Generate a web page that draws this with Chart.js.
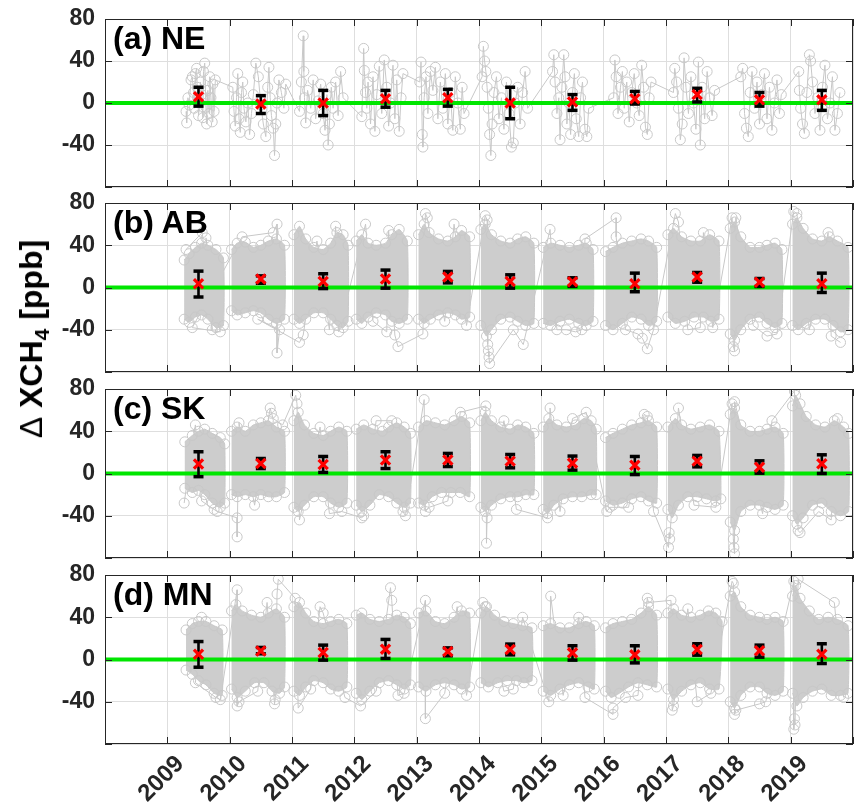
<!DOCTYPE html>
<html><head><meta charset="utf-8">
<script src="https://cdn.jsdelivr.net/npm/chart.js@4.4.0/dist/chart.umd.min.js"></script>
<style>
html,body{margin:0;padding:0;background:#fff;}
body{width:854px;height:812px;position:relative;overflow:hidden;font-family:"Liberation Sans",Arial,Helvetica,sans-serif;}
canvas{position:absolute;left:0;}
.plab{position:absolute;left:113px;font-weight:bold;font-size:32px;line-height:32px;color:#000;white-space:nowrap;}
#ytitle{position:absolute;left:31px;top:339px;transform:translate(-50%,-50%) rotate(-90deg);font-weight:bold;font-size:32px;line-height:32px;color:#000;white-space:nowrap;}
#ytitle sub{font-size:21px;vertical-align:-7px;line-height:0;}
#ytitle .d{font-weight:normal;}
</style></head><body>
<canvas id="pa" width="854" height="200" style="top:0px"></canvas>
<canvas id="pb" width="854" height="196" style="top:189px"></canvas>
<canvas id="pc" width="854" height="196" style="top:375px"></canvas>
<canvas id="pd" width="854" height="251" style="top:561px"></canvas>
<div class="plab" id="la" style="top:22px"></div>
<div class="plab" id="lb" style="top:206px"></div>
<div class="plab" id="lc" style="top:392px"></div>
<div class="plab" id="ld" style="top:578px"></div>
<div id="ytitle"><span class="d">Δ</span> XCH<sub>4</sub> [ppb]</div>
<script>
// ---------------- DATA ----------------
const years = [2009,2010,2011,2012,2013,2014,2015,2016,2017,2018,2019];
const xMin = 2008, xMax = 2020;
const yMin = -80, yMax = 80;
const yTickLabels = [-40, 0, 40, 80];
const zeroLine = 0;
const panelNames = ['(a) NE', '(b) AB', '(c) SK', '(d) MN'];

// yearly mean and error-bar limits (ppb)
const neMean = [6, -1, 0, 4, 5, 0, 1, 4, 8, 3, 3];
const neLow  = [-3, -10, -12, -4, -3, -15, -7, -1, 1, -3, -7];
const neHigh = [15, 7, 12, 12, 13, 15, 8, 11, 14, 10, 12];
const abMean = [3.5, 8, 5.7, 8, 10, 5.7, 5.4, 3.5, 10, 5, 3.5];
const abLow  = [-9, 4, -1, -0.6, 4.4, -0.6, 1, -4, 5, 1, -4.7];
const abHigh = [15.5, 11, 13, 16.5, 15.2, 12, 9.2, 13.6, 14.2, 8.5, 13.6];
const skMean = [9, 9.5, 8.5, 12.7, 12.7, 11.7, 9.8, 7.9, 11.7, 6, 9.2];
const skLow  = [-3, 4.7, 1, 4.7, 6.6, 5.4, 3.2, -1, 6.3, 0.3, 0];
const skHigh = [20.6, 14.2, 16.1, 20.6, 19, 18, 16.5, 16.1, 17.1, 12, 17.7];
const mnMean = [5, 8, 6.6, 9.8, 7.6, 9.5, 6.3, 4.4, 9.5, 8.2, 5];
const mnLow  = [-7.3, 5.4, -0.6, 1, 3.5, 4.4, -0.6, -3.2, 4.1, 2.2, -3.8];
const mnHigh = [17, 11.4, 13.6, 19, 11, 14.6, 13, 13, 14.9, 13.6, 14.9];

// NE individual soundings [decimal year, ppb]
const neSeries = [
 [2009.30,-8],[2009.31,-19],[2009.33,5],[2009.35,-2],[2009.38,22],[2009.40,25],[2009.42,10],[2009.43,-5],[2009.45,28],[2009.47,33],[2009.48,15],[2009.50,-12],[2009.52,0],[2009.53,20],[2009.55,8],[2009.57,-14],[2009.58,30],[2009.60,38],[2009.62,-4],[2009.63,-20],[2009.65,12],[2009.67,-10],[2009.68,25],[2009.70,5],[2009.72,-18],[2009.73,18],[2009.75,-8],[2009.77,22],
 [2010.05,15],[2010.07,-8],[2010.09,-22],[2010.11,5],[2010.13,28],[2010.15,-15],[2010.17,-28],[2010.19,10],[2010.21,20],[2010.23,-5],[2010.26,-18],[2010.29,0],[2010.32,-30],[2010.35,-10],[2010.38,8],[2010.42,38],[2010.46,25],[2010.50,-2],[2010.54,-20],[2010.58,-32],[2010.61,15],[2010.63,34],[2010.65,5],[2010.67,-12],[2010.70,-24],[2010.72,-50],[2010.74,-20],[2010.76,0],[2010.79,22],[2010.83,10],[2010.87,-5],[2010.90,18],
 [2011.12,-8],[2011.15,20],[2011.18,64],[2011.19,30],[2011.20,5],[2011.22,-19],[2011.25,12],[2011.30,-5],[2011.34,22],[2011.38,-15],[2011.42,2],[2011.46,18],[2011.50,-10],[2011.53,-26],[2011.56,8],[2011.58,-40],[2011.60,-20],[2011.63,15],[2011.66,-5],[2011.70,20],[2011.74,-12],[2011.78,30],[2011.82,5],
 [2012.12,-13],[2012.15,52],[2012.16,31],[2012.18,10],[2012.20,-5],[2012.22,20],[2012.26,-20],[2012.30,25],[2012.33,-27],[2012.36,8],[2012.40,35],[2012.44,-10],[2012.48,41],[2012.52,15],[2012.55,-22],[2012.58,0],[2012.62,36],[2012.65,-15],[2012.68,22],[2012.72,-27],[2012.75,5],[2012.78,28],
 [2013.05,20],[2013.07,39],[2013.09,-30],[2013.10,-42],[2013.12,5],[2013.15,25],[2013.18,-10],[2013.22,30],[2013.26,12],[2013.30,34],[2013.34,-15],[2013.38,20],[2013.42,-5],[2013.46,28],[2013.50,-20],[2013.54,10],[2013.58,-26],[2013.62,25],[2013.66,0],[2013.70,-25],[2013.73,15],[2013.76,-10],
 [2014.05,25],[2014.07,54],[2014.09,40],[2014.11,30],[2014.13,15],[2014.15,-5],[2014.17,-30],[2014.19,-50],[2014.21,-20],[2014.24,10],[2014.28,25],[2014.32,-15],[2014.36,5],[2014.40,-25],[2014.44,20],[2014.48,-10],[2014.52,-42],[2014.55,-38],[2014.58,0],[2014.62,15],[2014.66,-20],[2014.70,10],[2014.74,30],[2014.78,-5],
 [2015.18,30],[2015.20,46],[2015.22,20],[2015.25,-10],[2015.28,5],[2015.30,-35],[2015.33,15],[2015.36,46],[2015.38,25],[2015.41,-20],[2015.44,0],[2015.47,-30],[2015.50,10],[2015.53,28],[2015.56,-15],[2015.60,-32],[2015.63,5],[2015.66,20],[2015.70,-25],[2015.73,-32],[2015.76,-5],
 [2016.16,5],[2016.18,41],[2016.20,25],[2016.23,-10],[2016.27,15],[2016.30,30],[2016.33,-5],[2016.37,20],[2016.41,-18],[2016.45,10],[2016.49,28],[2016.53,0],[2016.57,-12],[2016.61,36],[2016.64,15],[2016.67,-23],[2016.70,-30],[2016.73,5],[2016.76,20],
 [2017.12,10],[2017.14,33],[2017.17,20],[2017.20,-5],[2017.23,-35],[2017.26,-20],[2017.29,43],[2017.32,15],[2017.36,-10],[2017.40,25],[2017.44,0],[2017.48,-25],[2017.52,39],[2017.55,-40],[2017.58,15],[2017.62,-15],[2017.66,30],[2017.70,5],[2017.74,-12],[2017.78,12],
 [2018.20,25],[2018.23,33],[2018.26,-10],[2018.29,-24],[2018.32,-32],[2018.35,10],[2018.38,30],[2018.42,-5],[2018.46,20],[2018.50,-20],[2018.54,8],[2018.58,28],[2018.62,-15],[2018.66,15],[2018.70,-26],[2018.74,0],[2018.78,22],[2018.82,-10],[2018.85,8],
 [2019.13,30],[2019.14,12],[2019.16,-5],[2019.19,-20],[2019.22,-29],[2019.26,10],[2019.30,46],[2019.32,40],[2019.35,20],[2019.39,-10],[2019.43,5],[2019.47,-26],[2019.51,15],[2019.55,36],[2019.59,-15],[2019.63,0],[2019.67,25],[2019.71,-26],[2019.75,-10],[2019.79,10]
];

// Dense panels: upper and lower edge of each yearly cloud, plus isolated soundings
const abTop = [
 [[2009.27,26],[2009.35,32],[2009.45,38],[2009.55,42],[2009.65,40],[2009.78,36],[2009.9,28]],
 [[2010.03,36],[2010.12,42],[2010.25,43],[2010.38,38],[2010.5,40],[2010.62,44],[2010.75,46],[2010.88,40]],
 [[2011.03,50],[2011.12,58],[2011.22,46],[2011.35,38],[2011.5,36],[2011.62,42],[2011.72,52],[2011.82,50],[2011.9,40]],
 [[2012.03,44],[2012.12,50],[2012.22,42],[2012.35,40],[2012.5,42],[2012.6,50],[2012.72,55],[2012.85,44]],
 [[2013.03,50],[2013.12,60],[2013.2,52],[2013.35,46],[2013.5,44],[2013.62,48],[2013.72,54],[2013.85,48]],
 [[2014.03,55],[2014.1,60],[2014.2,50],[2014.35,44],[2014.5,42],[2014.62,46],[2014.75,48],[2014.88,42]],
 [[2015.03,38],[2015.15,42],[2015.3,40],[2015.45,38],[2015.6,40],[2015.72,42],[2015.83,36]],
 [[2016.03,34],[2016.15,38],[2016.3,42],[2016.45,44],[2016.6,46],[2016.72,44],[2016.85,38]],
 [[2017.03,50],[2017.12,56],[2017.25,48],[2017.4,44],[2017.55,44],[2017.7,50],[2017.85,44]],
 [[2018.03,56],[2018.1,62],[2018.2,48],[2018.35,38],[2018.5,38],[2018.62,40],[2018.75,42],[2018.86,36]],
 [[2019.03,60],[2019.1,66],[2019.2,56],[2019.35,46],[2019.5,44],[2019.62,48],[2019.75,44],[2019.92,38]]
];
const abBottom = [
 [[2009.27,-30],[2009.35,-33],[2009.45,-28],[2009.55,-26],[2009.65,-30],[2009.78,-38],[2009.9,-36]],
 [[2010.03,-22],[2010.12,-26],[2010.25,-24],[2010.38,-22],[2010.5,-24],[2010.62,-30],[2010.75,-34],[2010.88,-30]],
 [[2011.03,-30],[2011.12,-34],[2011.22,-30],[2011.35,-24],[2011.5,-24],[2011.62,-30],[2011.72,-36],[2011.82,-38],[2011.9,-32]],
 [[2012.03,-30],[2012.12,-34],[2012.22,-28],[2012.35,-24],[2012.5,-26],[2012.6,-32],[2012.72,-34],[2012.85,-30]],
 [[2013.03,-30],[2013.12,-34],[2013.22,-30],[2013.35,-26],[2013.5,-24],[2013.62,-26],[2013.72,-30],[2013.85,-28]],
 [[2014.03,-36],[2014.12,-46],[2014.2,-40],[2014.35,-30],[2014.5,-28],[2014.62,-32],[2014.75,-36],[2014.88,-34]],
 [[2015.03,-34],[2015.15,-36],[2015.3,-32],[2015.45,-30],[2015.6,-34],[2015.72,-36],[2015.83,-32]],
 [[2016.03,-36],[2016.15,-40],[2016.3,-34],[2016.45,-28],[2016.6,-30],[2016.72,-36],[2016.85,-32]],
 [[2017.03,-28],[2017.15,-34],[2017.3,-32],[2017.45,-28],[2017.6,-28],[2017.72,-32],[2017.85,-30]],
 [[2018.03,-44],[2018.1,-50],[2018.2,-40],[2018.35,-30],[2018.5,-28],[2018.62,-34],[2018.75,-38],[2018.86,-34]],
 [[2019.03,-36],[2019.12,-40],[2019.25,-34],[2019.4,-30],[2019.55,-30],[2019.68,-36],[2019.8,-42],[2019.92,-40]]
];
const abOutliers = [
 [[2009.3,36],[2009.56,52],[2009.72,-40],[2009.62,47],[2009.85,-42],[2009.4,-38]],
 [[2010.2,48],[2010.7,52],[2010.76,60],[2010.76,-62],[2010.8,-40],[2010.45,-30]],
 [[2011.12,-52],[2011.18,-45],[2011.4,44],[2011.6,-40],[2011.7,58],[2011.75,-42]],
 [[2012.18,60],[2012.3,-32],[2012.52,-42],[2012.55,54],[2012.65,-45],[2012.7,-56]],
 [[2013.1,-44],[2013.14,70],[2013.17,66],[2013.45,-32],[2013.6,60],[2013.8,-36]],
 [[2014.1,68],[2014.13,64],[2014.14,-54],[2014.15,-60],[2014.16,-66],[2014.17,-72],[2014.55,-40],[2014.71,-54]],
 [[2015.14,55],[2015.25,-40],[2015.4,-40],[2015.55,-42],[2015.65,-40],[2015.7,46]],
 [[2016.2,66],[2016.2,48],[2016.35,-40],[2016.55,-44],[2016.62,-48],[2016.7,-58],[2016.8,-40]],
 [[2017.15,70],[2017.2,62],[2017.35,-40],[2017.55,-38],[2017.6,52],[2017.75,-38]],
 [[2018.06,66],[2018.08,-56],[2018.1,-60],[2018.12,66],[2018.4,-36],[2018.62,-46],[2018.78,-44]],
 [[2019.05,72],[2019.1,70],[2019.3,-40],[2019.6,52],[2019.65,-46],[2019.8,-52]]
];
const skTop = [
 [[2009.28,30],[2009.4,36],[2009.5,40],[2009.6,42],[2009.72,38],[2009.85,34],[2009.92,28]],
 [[2010.03,40],[2010.12,44],[2010.25,40],[2010.38,46],[2010.5,48],[2010.62,50],[2010.75,44],[2010.88,40]],
 [[2011.03,50],[2011.1,58],[2011.2,46],[2011.35,38],[2011.5,36],[2011.62,40],[2011.75,44],[2011.88,40]],
 [[2012.03,42],[2012.15,46],[2012.3,42],[2012.45,40],[2012.55,44],[2012.68,48],[2012.8,44],[2012.9,38]],
 [[2013.03,44],[2013.15,50],[2013.3,48],[2013.45,46],[2013.6,50],[2013.72,54],[2013.85,48]],
 [[2014.03,50],[2014.1,58],[2014.2,50],[2014.35,44],[2014.5,42],[2014.62,46],[2014.75,44],[2014.88,38]],
 [[2015.03,44],[2015.12,52],[2015.25,46],[2015.4,44],[2015.55,46],[2015.68,52],[2015.8,50],[2015.88,42]],
 [[2016.03,34],[2016.15,38],[2016.3,42],[2016.45,46],[2016.6,48],[2016.72,50],[2016.85,44]],
 [[2017.03,44],[2017.15,52],[2017.25,46],[2017.4,42],[2017.55,44],[2017.7,46],[2017.85,40]],
 [[2018.03,56],[2018.1,62],[2018.2,46],[2018.35,40],[2018.5,40],[2018.62,42],[2018.75,44],[2018.88,38]],
 [[2019.03,64],[2019.08,74],[2019.15,66],[2019.25,54],[2019.4,46],[2019.55,44],[2019.7,50],[2019.85,44],[2019.93,38]]
];
const skBottom = [
 [[2009.28,-14],[2009.4,-18],[2009.5,-16],[2009.6,-20],[2009.72,-28],[2009.85,-32],[2009.92,-28]],
 [[2010.03,-20],[2010.12,-22],[2010.25,-20],[2010.38,-22],[2010.5,-20],[2010.62,-22],[2010.75,-22],[2010.88,-18]],
 [[2011.03,-32],[2011.1,-36],[2011.2,-30],[2011.35,-22],[2011.5,-22],[2011.62,-28],[2011.75,-32],[2011.88,-28]],
 [[2012.03,-30],[2012.12,-36],[2012.25,-30],[2012.4,-20],[2012.55,-22],[2012.68,-28],[2012.8,-32],[2012.9,-28]],
 [[2013.03,-28],[2013.12,-30],[2013.25,-22],[2013.4,-18],[2013.55,-18],[2013.7,-18],[2013.85,-22]],
 [[2014.03,-32],[2014.1,-36],[2014.2,-30],[2014.35,-24],[2014.5,-22],[2014.62,-22],[2014.75,-20],[2014.88,-20]],
 [[2015.03,-34],[2015.1,-38],[2015.2,-30],[2015.35,-24],[2015.5,-22],[2015.65,-22],[2015.8,-20],[2015.88,-20]],
 [[2016.03,-26],[2016.15,-30],[2016.3,-28],[2016.45,-24],[2016.6,-22],[2016.72,-26],[2016.85,-28]],
 [[2017.03,-34],[2017.1,-42],[2017.2,-30],[2017.35,-22],[2017.5,-22],[2017.65,-24],[2017.8,-26],[2017.88,-24]],
 [[2018.03,-46],[2018.1,-54],[2018.2,-36],[2018.35,-30],[2018.5,-30],[2018.62,-32],[2018.75,-34],[2018.88,-30]],
 [[2019.03,-40],[2019.1,-48],[2019.2,-42],[2019.35,-30],[2019.5,-28],[2019.65,-36],[2019.8,-40],[2019.93,-36]]
];
const skOutliers = [
 [[2009.27,-28],[2009.45,46],[2009.55,-26],[2009.75,-34],[2009.8,-36]],
 [[2010.12,-42],[2010.12,-60],[2010.15,48],[2010.4,-30],[2010.65,62],[2010.67,57],[2010.7,52],[2010.85,46]],
 [[2011.06,74],[2011.08,66],[2011.12,-44],[2011.45,44],[2011.6,-38],[2011.8,-36]],
 [[2012.12,-42],[2012.15,-40],[2012.35,50],[2012.6,50],[2012.78,-36],[2012.82,-40]],
 [[2013.12,70],[2013.14,-36],[2013.2,-32],[2013.5,-26],[2013.7,58]],
 [[2014.11,64],[2014.12,-66],[2014.13,-42],[2014.4,50],[2014.6,-34]],
 [[2015.1,-42],[2015.14,62],[2015.3,-36],[2015.5,52],[2015.72,58]],
 [[2016.05,-36],[2016.1,-32],[2016.4,-32],[2016.65,56],[2016.7,54],[2016.8,-36]],
 [[2017.04,-70],[2017.05,-56],[2017.06,-62],[2017.2,62],[2017.45,-30],[2017.8,-32]],
 [[2018.06,66],[2018.08,-62],[2018.09,-70],[2018.1,-76],[2018.1,68],[2018.55,-38],[2018.7,50]],
 [[2019.06,78],[2019.12,-54],[2019.15,-56],[2019.45,-36],[2019.65,-44],[2019.75,52]]
];
const mnTop = [
 [[2009.3,28],[2009.4,34],[2009.5,36],[2009.62,36],[2009.75,32],[2009.88,28]],
 [[2010.03,46],[2010.1,52],[2010.2,46],[2010.35,42],[2010.5,40],[2010.62,44],[2010.75,48],[2010.88,40]],
 [[2011.03,50],[2011.12,54],[2011.22,44],[2011.35,36],[2011.5,34],[2011.62,36],[2011.75,38],[2011.88,34]],
 [[2012.03,42],[2012.12,44],[2012.25,38],[2012.4,36],[2012.55,38],[2012.68,42],[2012.8,40],[2012.9,34]],
 [[2013.03,44],[2013.15,46],[2013.3,36],[2013.45,34],[2013.6,40],[2013.72,46],[2013.85,44]],
 [[2014.03,44],[2014.12,50],[2014.25,42],[2014.4,36],[2014.55,34],[2014.7,32],[2014.85,30]],
 [[2015.03,32],[2015.15,34],[2015.3,30],[2015.45,30],[2015.6,34],[2015.72,36],[2015.85,32]],
 [[2016.03,30],[2016.15,34],[2016.3,36],[2016.45,38],[2016.6,44],[2016.72,50],[2016.85,42]],
 [[2017.03,44],[2017.12,48],[2017.25,42],[2017.4,40],[2017.55,42],[2017.68,46],[2017.8,44],[2017.9,36]],
 [[2018.03,60],[2018.1,64],[2018.2,50],[2018.35,42],[2018.5,40],[2018.62,38],[2018.75,40],[2018.88,36]],
 [[2019.03,60],[2019.08,70],[2019.15,58],[2019.3,46],[2019.45,38],[2019.6,40],[2019.75,38],[2019.92,32]]
];
const mnBottom = [
 [[2009.3,-10],[2009.4,-14],[2009.5,-20],[2009.62,-24],[2009.75,-32],[2009.88,-34]],
 [[2010.03,-28],[2010.12,-36],[2010.25,-30],[2010.4,-22],[2010.55,-22],[2010.68,-30],[2010.8,-32],[2010.88,-26]],
 [[2011.03,-30],[2011.12,-34],[2011.22,-26],[2011.35,-20],[2011.5,-22],[2011.62,-28],[2011.75,-30],[2011.88,-26]],
 [[2012.03,-32],[2012.12,-38],[2012.25,-30],[2012.4,-22],[2012.55,-20],[2012.68,-24],[2012.8,-28],[2012.9,-24]],
 [[2013.03,-26],[2013.15,-30],[2013.3,-24],[2013.45,-22],[2013.6,-24],[2013.72,-28],[2013.85,-26]],
 [[2014.03,-22],[2014.15,-26],[2014.3,-22],[2014.45,-20],[2014.6,-20],[2014.72,-22],[2014.85,-20]],
 [[2015.03,-30],[2015.15,-34],[2015.3,-28],[2015.45,-24],[2015.6,-22],[2015.75,-26],[2015.85,-28]],
 [[2016.03,-30],[2016.12,-36],[2016.25,-32],[2016.4,-26],[2016.55,-22],[2016.7,-24],[2016.85,-26]],
 [[2017.03,-28],[2017.12,-38],[2017.25,-30],[2017.4,-24],[2017.55,-22],[2017.7,-28],[2017.85,-28]],
 [[2018.03,-40],[2018.1,-46],[2018.2,-34],[2018.35,-26],[2018.5,-26],[2018.62,-32],[2018.75,-34],[2018.88,-30]],
 [[2019.03,-32],[2019.1,-44],[2019.2,-36],[2019.35,-30],[2019.5,-28],[2019.65,-34],[2019.8,-34],[2019.92,-32]]
];
const mnOutliers = [
 [[2009.55,40],[2009.45,-22],[2009.78,-36],[2009.85,-38]],
 [[2010.12,66],[2010.12,-44],[2010.15,-40],[2010.45,-30],[2010.6,54],[2010.72,-42],[2010.73,-38],[2010.76,62],[2010.78,76]],
 [[2011.05,58],[2011.1,-46],[2011.3,-28],[2011.45,50],[2011.5,44],[2011.85,-36]],
 [[2012.1,-44],[2012.35,-30],[2012.58,68],[2012.6,56],[2012.7,-34],[2012.8,-32]],
 [[2013.14,56],[2013.14,-56],[2013.45,-32],[2013.65,50],[2013.8,-34]],
 [[2014.06,54],[2014.1,50],[2014.4,-30],[2014.55,-28],[2014.7,40]],
 [[2015.12,-40],[2015.15,60],[2015.35,-34],[2015.6,40],[2015.7,-36]],
 [[2016.15,-52],[2016.15,-46],[2016.35,-36],[2016.55,-34],[2016.7,58],[2016.72,54]],
 [[2017.08,56],[2017.1,-48],[2017.12,-44],[2017.35,48],[2017.5,-40],[2017.72,-32]],
 [[2018.06,74],[2018.08,72],[2018.1,-52],[2018.12,-48],[2018.5,-42],[2018.6,-40]],
 [[2019.05,74],[2019.05,-66],[2019.06,-56],[2019.07,-62],[2019.12,76],[2019.7,54],[2019.85,-36]]
];

// ---------------- STYLE ----------------
const GRAY = '#c8c8c8', FILLGRAY = '#cdcdcd', GRID = '#dedede', AXIS = '#262626';
const GREEN = '#00e600';
const yFont = {family: '"Liberation Sans", Arial, sans-serif', size: 23, weight: 'bold'};
const xFont = {family: '"Liberation Sans", Arial, sans-serif', size: 24, weight: 'bold'};

const toPts = arr => arr.map(p => ({x: p[0], y: p[1]}));

const boxPlugin = {
  id: 'boxTicks',
  afterDatasetsDraw(chart) {
    const {ctx, chartArea: a, scales: {x, y}} = chart;
    ctx.save();
    ctx.strokeStyle = AXIS;
    ctx.lineWidth = 1;
    ctx.beginPath();
    const tl = 7;
    x.ticks.forEach(t => {
      const px = Math.round(x.getPixelForValue(t.value)) + 0.5;
      ctx.moveTo(px, a.top); ctx.lineTo(px, a.top + tl);
      ctx.moveTo(px, a.bottom); ctx.lineTo(px, a.bottom - tl);
    });
    y.ticks.forEach(t => {
      const py = Math.round(y.getPixelForValue(t.value)) + 0.5;
      ctx.moveTo(a.left, py); ctx.lineTo(a.left + tl, py);
      ctx.moveTo(a.right, py); ctx.lineTo(a.right - tl, py);
    });
    ctx.stroke();
    ctx.strokeRect(Math.round(a.left) + 0.5, Math.round(a.top) + 0.5, Math.round(a.width) - 1, Math.round(a.height) - 1);
    ctx.restore();
  }
};

function makePanel(canvasId, cfg) {
  const mids = years.map(y => y + 0.5);
  const ds = [];
  ds.push({data: mids.map((x, i) => ({x, y: cfg.mean[i]})), showLine: false,
    pointStyle: 'crossRot', pointRadius: 6.5, pointBorderWidth: 3.2,
    pointBorderColor: '#ff0000', pointBackgroundColor: '#ff0000', borderColor: '#ff0000', backgroundColor: '#ff0000'});
  const caps = [];
  mids.forEach((x, i) => { caps.push({x, y: cfg.low[i]}, {x, y: cfg.high[i]}); });
  ds.push({data: caps, showLine: false, pointStyle: 'line', pointRadius: 5, pointBorderWidth: 3.5,
    pointBorderColor: '#000', borderColor: '#000', backgroundColor: '#000'});
  const stems = [];
  mids.forEach((x, i) => { stems.push({x, y: cfg.low[i]}, {x, y: cfg.high[i]}, {x, y: null}); });
  ds.push({data: stems, showLine: true, spanGaps: false, borderColor: '#000', backgroundColor: '#000',
    borderWidth: 2.6, pointRadius: 0});
  ds.push({data: [{x: xMin, y: zeroLine}, {x: xMax, y: zeroLine}], showLine: true,
    borderColor: GREEN, backgroundColor: GREEN, borderWidth: 4, pointRadius: 0});
  if (cfg.top) {
    cfg.top.forEach((t, i) => {
      const poly = toPts(t).concat(toPts(cfg.bottom[i].slice().reverse()));
      ds.push({data: poly, showLine: true, fill: 'shape', backgroundColor: FILLGRAY,
        borderColor: GRAY, borderWidth: 1, pointRadius: 5, pointBorderWidth: 1,
        pointBorderColor: GRAY, pointBackgroundColor: 'rgba(0,0,0,0)', tension: 0.15});
    });
  }
  ds.push({data: toPts(cfg.points), showLine: true, borderColor: GRAY, backgroundColor: 'rgba(0,0,0,0)',
    borderWidth: 1, pointRadius: 5, pointBorderWidth: 1, pointBorderColor: GRAY,
    pointBackgroundColor: 'rgba(0,0,0,0)'});

  const bottomAxis = !!cfg.bottomAxis;
  return new Chart(document.getElementById(canvasId), {
    type: 'scatter',
    data: {datasets: ds},
    options: {
      responsive: false, animation: false, events: [],
      layout: {autoPadding: false, padding: {left: 0, right: 1, top: cfg.padTop, bottom: cfg.padBottom}},
      plugins: {legend: {display: false}, tooltip: {enabled: false}, colors: {enabled: false}},
      scales: {
        x: {type: 'linear', min: xMin, max: xMax,
          grid: {color: GRID, lineWidth: 1, drawTicks: false},
          border: {display: false},
          ticks: {display: bottomAxis, stepSize: 1, autoSkip: false, maxRotation: 45, minRotation: 45,
            font: xFont, color: AXIS, padding: 6, labelOffset: 13,
            callback: v => (years.includes(v) ? String(v) : '')},
          afterFit: s => { s.height = bottomAxis ? 68 : 0; s.paddingLeft = 0; s.paddingRight = 0; }
        },
        y: {type: 'linear', min: yMin, max: yMax,
          grid: {color: GRID, lineWidth: 1, drawTicks: false},
          border: {display: false},
          ticks: {stepSize: 20, font: yFont, color: AXIS, padding: 10,
            callback: v => (yTickLabels.includes(v) ? String(v) : '')},
          afterFit: s => { s.width = 105; s.paddingTop = 0; s.paddingBottom = 0; }
        }
      }
    },
    plugins: [boxPlugin]
  });
}

makePanel('pa', {mean: neMean, low: neLow, high: neHigh, points: neSeries, padTop: 19, padBottom: 13});
makePanel('pb', {mean: abMean, low: abLow, high: abHigh, top: abTop, bottom: abBottom, points: abOutliers.flat(), padTop: 14, padBottom: 13});
makePanel('pc', {mean: skMean, low: skLow, high: skHigh, top: skTop, bottom: skBottom, points: skOutliers.flat(), padTop: 14, padBottom: 13});
makePanel('pd', {mean: mnMean, low: mnLow, high: mnHigh, top: mnTop, bottom: mnBottom, points: mnOutliers.flat(), padTop: 14, padBottom: 0, bottomAxis: true});

['la','lb','lc','ld'].forEach((id, i) => { document.getElementById(id).textContent = panelNames[i]; });
</script>
</body></html>
